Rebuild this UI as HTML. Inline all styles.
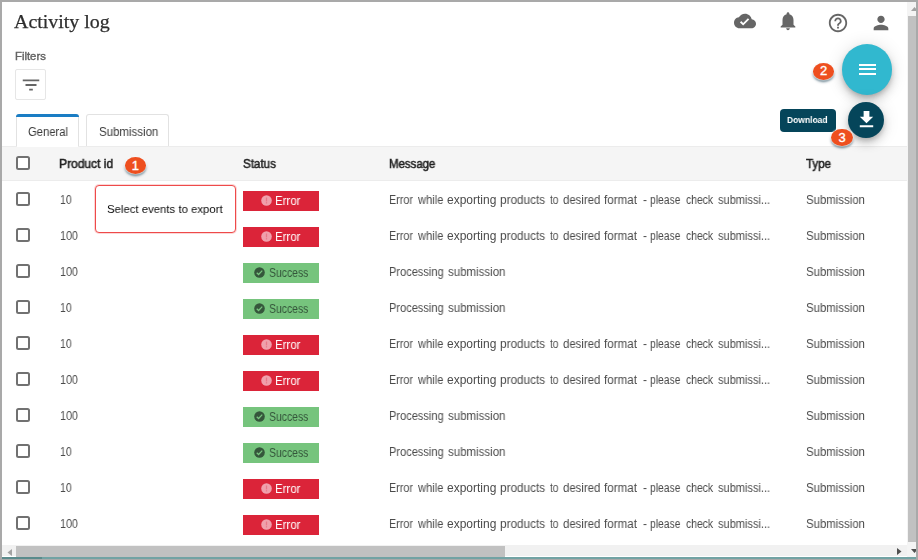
<!DOCTYPE html>
<html><head><meta charset="utf-8">
<style>
*{box-sizing:border-box;margin:0;padding:0}
html,body{width:918px;height:560px;overflow:hidden;background:#fff;font-family:"Liberation Sans",sans-serif}
#frame{position:absolute;left:0;top:0;width:918px;height:560px;background:#fff;overflow:hidden}
.a{position:absolute}
.t{position:absolute;white-space:nowrap;transform-origin:0 0;line-height:normal;will-change:transform}
.cb{position:absolute;left:16px;width:14px;height:14px;border:2px solid #717171;border-radius:2.5px;background:#fff}
.badge{position:absolute;left:243px;width:76px;height:20px}
.err{background:#db2439}
.suc{background:#76c47d}
.bi{position:absolute;top:4.1px;width:11px;height:11px}
.num{position:absolute;width:21.4px;height:16.8px;border-radius:50%;background:#ee4f1f;box-shadow:0 0 1.5px 0.5px rgba(255,255,255,.9),0 2px 2.5px 0 rgba(20,60,80,.7)}
.num b{position:absolute;left:0;width:100%;text-align:center;top:1.7px;font-size:13px;line-height:14px;color:#fff;font-weight:normal;-webkit-text-stroke:0.35px #fff}
</style></head><body>
<div id="frame">
<!-- top icons -->
<svg class="a" style="left:733.8px;top:10.1px" width="22" height="22" viewBox="0 0 24 24"><path fill="#666" d="M19.35 10.04C18.67 6.59 15.64 4 12 4 9.11 4 6.6 5.64 5.35 8.04 2.34 8.36 0 10.91 0 14c0 3.310 2.690 6 6 6h13c2.760 0 5-2.240 5-5 0-2.640-2.050-4.780-4.650-4.960zM10 17l-3.500-3.500 1.410-1.410L10 14.170 15.180 9l1.410 1.410L10 17z"/></svg>
<svg class="a" style="left:776.8px;top:10.2px" width="22" height="22" viewBox="0 0 24 24"><path fill="#666" d="M12 22c1.100 0 2-.900 2-2h-4c0 1.100.890 2 2 2zm6-6v-5c0-3.070-1.640-5.640-4.500-6.320V4c0-.830-.670-1.500-1.500-1.500s-1.500.670-1.500 1.500v.680C7.630 5.360 6 7.920 6 11v5l-2 2v1h16v-1l-2-2z"/></svg>
<svg class="a" style="left:827px;top:11.8px" width="22" height="22" viewBox="0 0 24 24"><path fill="#666" d="M11 18h2v-2h-2v2zm1-16C6.480 2 2 6.480 2 12s4.480 10 10 10 10-4.480 10-10S17.520 2 12 2zm0 18c-4.410 0-8-3.590-8-8s3.590-8 8-8 8 3.590 8 8-3.590 8-8 8zm0-14c-2.210 0-4 1.790-4 4h2c0-1.100.900-2 2-2s2 .900 2 2c0 2-3 1.750-3 5h2c0-2.250 3-2.500 3-5 0-2.210-1.790-4-4-4z"/></svg>
<svg class="a" style="left:870.3px;top:12.1px" width="22" height="22" viewBox="0 0 24 24"><path fill="#666" d="M12 12c2.210 0 4-1.790 4-4s-1.790-4-4-4-4 1.790-4 4 1.790 4 4 4zm0 2c-2.670 0-8 1.340-8 4v2h16v-2c0-2.660-5.330-4-8-4z"/></svg>
<!-- filter button -->
<div class="a" style="left:15px;top:69px;width:31px;height:31px;border:1px solid #e6e6e6;border-radius:2px;background:#fff"></div>
<svg class="a" style="left:19.5px;top:74.1px" width="22" height="22" viewBox="0 0 24 24"><path fill="#666" d="M10 18h4v-2h-4v2zM3 6v2h18V6H3zm3 7h12v-2H6v2z"/></svg>
<!-- tabs -->
<div class="a" style="left:16px;top:114px;width:63px;height:33px;border:1px solid #e2e2e2;border-bottom:none;border-radius:3px 3px 0 0;background:#fff"></div>
<div class="a" style="left:16px;top:114.3px;width:63px;height:3.2px;background:#1a7dc4;border-radius:3px 3px 0 0"></div>
<div class="a" style="left:86px;top:114px;width:83px;height:33px;border:1px solid #e2e2e2;border-bottom:none;border-radius:3px 3px 0 0;background:#fff"></div>
<!-- header -->
<div class="a" style="left:2px;top:146px;width:904.5px;height:34.6px;background:#f5f5f5;border-top:1px solid #ececec;border-bottom:1px solid #ececec"></div>
<div class="a" style="left:17px;top:146px;width:61px;height:1px;background:#fff"></div>
<div class="cb" style="top:156.2px"></div>
<div class="cb" style="top:191.6px"></div>
<div class="badge err" style="top:191px"><svg class="bi" style="left:18.3px" viewBox="0 0 24 24"><circle cx="12" cy="12" r="11.5" fill="#f0a0ac"/><rect x="10.6" y="5.5" width="2.8" height="8.5" fill="#e8798a"/><rect x="10.6" y="15.7" width="2.8" height="2.8" fill="#e8798a"/></svg></div>
<div class="cb" style="top:227.6px"></div>
<div class="badge err" style="top:227px"><svg class="bi" style="left:18.3px" viewBox="0 0 24 24"><circle cx="12" cy="12" r="11.5" fill="#f0a0ac"/><rect x="10.6" y="5.5" width="2.8" height="8.5" fill="#e8798a"/><rect x="10.6" y="15.7" width="2.8" height="2.8" fill="#e8798a"/></svg></div>
<div class="cb" style="top:263.6px"></div>
<div class="badge suc" style="top:263px"><svg class="bi" style="left:11.4px" viewBox="0 0 24 24"><circle cx="12" cy="12" r="11.5" fill="#35563b"/><path d="M6 12.5l4 4 8-8.5" stroke="#78c47f" stroke-width="2.8" fill="none"/></svg></div>
<div class="cb" style="top:299.6px"></div>
<div class="badge suc" style="top:299px"><svg class="bi" style="left:11.4px" viewBox="0 0 24 24"><circle cx="12" cy="12" r="11.5" fill="#35563b"/><path d="M6 12.5l4 4 8-8.5" stroke="#78c47f" stroke-width="2.8" fill="none"/></svg></div>
<div class="cb" style="top:335.6px"></div>
<div class="badge err" style="top:335px"><svg class="bi" style="left:18.3px" viewBox="0 0 24 24"><circle cx="12" cy="12" r="11.5" fill="#f0a0ac"/><rect x="10.6" y="5.5" width="2.8" height="8.5" fill="#e8798a"/><rect x="10.6" y="15.7" width="2.8" height="2.8" fill="#e8798a"/></svg></div>
<div class="cb" style="top:371.6px"></div>
<div class="badge err" style="top:371px"><svg class="bi" style="left:18.3px" viewBox="0 0 24 24"><circle cx="12" cy="12" r="11.5" fill="#f0a0ac"/><rect x="10.6" y="5.5" width="2.8" height="8.5" fill="#e8798a"/><rect x="10.6" y="15.7" width="2.8" height="2.8" fill="#e8798a"/></svg></div>
<div class="cb" style="top:407.6px"></div>
<div class="badge suc" style="top:407px"><svg class="bi" style="left:11.4px" viewBox="0 0 24 24"><circle cx="12" cy="12" r="11.5" fill="#35563b"/><path d="M6 12.5l4 4 8-8.5" stroke="#78c47f" stroke-width="2.8" fill="none"/></svg></div>
<div class="cb" style="top:443.6px"></div>
<div class="badge suc" style="top:443px"><svg class="bi" style="left:11.4px" viewBox="0 0 24 24"><circle cx="12" cy="12" r="11.5" fill="#35563b"/><path d="M6 12.5l4 4 8-8.5" stroke="#78c47f" stroke-width="2.8" fill="none"/></svg></div>
<div class="cb" style="top:479.6px"></div>
<div class="badge err" style="top:479px"><svg class="bi" style="left:18.3px" viewBox="0 0 24 24"><circle cx="12" cy="12" r="11.5" fill="#f0a0ac"/><rect x="10.6" y="5.5" width="2.8" height="8.5" fill="#e8798a"/><rect x="10.6" y="15.7" width="2.8" height="2.8" fill="#e8798a"/></svg></div>
<div class="cb" style="top:515.6px"></div>
<div class="badge err" style="top:515px"><svg class="bi" style="left:18.3px" viewBox="0 0 24 24"><circle cx="12" cy="12" r="11.5" fill="#f0a0ac"/><rect x="10.6" y="5.5" width="2.8" height="8.5" fill="#e8798a"/><rect x="10.6" y="15.7" width="2.8" height="2.8" fill="#e8798a"/></svg></div>
<!-- tooltip 1 -->
<div class="a" style="left:95px;top:185px;width:141px;height:48px;border:1px solid #ee4a4a;box-shadow:0 0 0 1px rgba(240,70,70,.22);border-radius:4px;background:#fff"></div>
<!-- FABs -->
<div class="a" style="left:841.8px;top:44.4px;width:50.5px;height:50.5px;border-radius:50%;background:#31b8cf;box-shadow:0 3px 5px -1px rgba(0,0,0,.2),0 6px 10px 0 rgba(0,0,0,.14),0 1px 18px 0 rgba(0,0,0,.12)"></div>
<div class="a" style="left:858.500px;top:63.600px;width:17px;height:2.200px;background:#fff"></div>
<div class="a" style="left:858.500px;top:68.300px;width:17px;height:2.200px;background:#fff"></div>
<div class="a" style="left:858.500px;top:73px;width:17px;height:2.200px;background:#fff"></div>
<div class="a" style="left:848.400px;top:102.2px;width:36px;height:36px;border-radius:50%;background:#05455a;box-shadow:0 3px 5px -1px rgba(0,0,0,.2),0 6px 10px 0 rgba(0,0,0,.14),0 1px 18px 0 rgba(0,0,0,.12)"></div>
<svg class="a" style="left:854.6px;top:108.1px" width="23" height="23" viewBox="0 0 24 24"><path fill="#fff" d="M19 9h-4V3H9v6H5l7 7 7-7zM5 18v2h14v-2H5z"/></svg>
<div class="a" style="left:779.6px;top:108.7px;width:56.3px;height:23px;border-radius:4px;background:#05455a"></div>
<!-- numbered badges -->
<div class="num" style="left:124.600px;top:157.400px"><b>1</b></div>
<div class="num" style="left:813px;top:62.8px"><b>2</b></div>
<div class="num" style="left:831.400px;top:129.300px"><b>3</b></div>
<span class="t" style="left:14.40px;top:10.84px;font-size:19.6px;font-weight:normal;color:#2e2e2e;font-family:'Liberation Serif',serif;transform:scaleX(1.0174);-webkit-text-stroke:0.25px #2e2e2e;">Activity log</span>
<span class="t" style="left:15.00px;top:49.77px;font-size:11.3px;font-weight:normal;color:#666;font-family:'Liberation Sans',sans-serif;transform:scaleX(1.0031);-webkit-text-stroke:0.4px #606060;">Filters</span>
<span class="t" style="left:28.00px;top:125.14px;font-size:12px;font-weight:normal;color:#3a3a3a;font-family:'Liberation Sans',sans-serif;transform:scaleX(0.9375);">General</span>
<span class="t" style="left:98.50px;top:124.94px;font-size:12px;font-weight:normal;color:#3a3a3a;font-family:'Liberation Sans',sans-serif;transform:scaleX(0.9568);">Submission</span>
<span class="t" style="left:59.22px;top:156.87px;font-size:12.3px;font-weight:normal;color:#222;font-family:'Liberation Sans',sans-serif;transform:scaleX(0.9775);-webkit-text-stroke:0.5px #222;">Product id</span>
<span class="t" style="left:243.00px;top:156.87px;font-size:12.3px;font-weight:normal;color:#222;font-family:'Liberation Sans',sans-serif;transform:scaleX(0.9449);-webkit-text-stroke:0.5px #222;">Status</span>
<span class="t" style="left:388.57px;top:156.87px;font-size:12.3px;font-weight:normal;color:#222;font-family:'Liberation Sans',sans-serif;transform:scaleX(0.9275);-webkit-text-stroke:0.5px #222;">Message</span>
<span class="t" style="left:806.00px;top:156.87px;font-size:12.3px;font-weight:normal;color:#222;font-family:'Liberation Sans',sans-serif;transform:scaleX(0.9396);-webkit-text-stroke:0.5px #222;">Type</span>
<span class="t" style="left:107.00px;top:201.71px;font-size:11.7px;font-weight:normal;color:#0c0c0c;font-family:'Liberation Sans',sans-serif;transform:scaleX(0.9721);">Select events to export</span>
<span class="t" style="left:787.40px;top:114.43px;font-size:9.8px;font-weight:bold;color:#fff;font-family:'Liberation Sans',sans-serif;transform:scaleX(0.8672);">Download</span>
<span class="t" style="left:59.60px;top:192.64px;font-size:12px;font-weight:normal;color:#4b4b4b;font-family:'Liberation Sans',sans-serif;transform:scaleX(0.8703);">10</span>
<span class="t" style="left:275.47px;top:193.87px;font-size:12.3px;font-weight:normal;color:#fff;font-family:'Liberation Sans',sans-serif;transform:scaleX(0.9302);">Error</span>
<span class="t" style="left:389.40px;top:192.64px;font-size:12px;font-weight:normal;color:#4b4b4b;font-family:'Liberation Sans',sans-serif;transform:scaleX(0.8961);">Error</span>
<span class="t" style="left:417.73px;top:192.64px;font-size:12px;font-weight:normal;color:#4b4b4b;font-family:'Liberation Sans',sans-serif;transform:scaleX(0.9277);">while</span>
<span class="t" style="left:447.10px;top:192.64px;font-size:12px;font-weight:normal;color:#4b4b4b;font-family:'Liberation Sans',sans-serif;transform:scaleX(0.9981);">exporting</span>
<span class="t" style="left:500.00px;top:192.64px;font-size:12px;font-weight:normal;color:#4b4b4b;font-family:'Liberation Sans',sans-serif;transform:scaleX(0.9799);">products</span>
<span class="t" style="left:549.50px;top:192.64px;font-size:12px;font-weight:normal;color:#4b4b4b;font-family:'Liberation Sans',sans-serif;transform:scaleX(0.8419);">to</span>
<span class="t" style="left:563.40px;top:192.64px;font-size:12px;font-weight:normal;color:#4b4b4b;font-family:'Liberation Sans',sans-serif;transform:scaleX(0.9487);">desired</span>
<span class="t" style="left:604.10px;top:192.64px;font-size:12px;font-weight:normal;color:#4b4b4b;font-family:'Liberation Sans',sans-serif;transform:scaleX(0.9690);">format</span>
<span class="t" style="left:642.50px;top:192.64px;font-size:12px;font-weight:normal;color:#4b4b4b;font-family:'Liberation Sans',sans-serif;transform:scaleX(1.0000);">-</span>
<span class="t" style="left:650.10px;top:192.64px;font-size:12px;font-weight:normal;color:#4b4b4b;font-family:'Liberation Sans',sans-serif;transform:scaleX(0.8602);">please</span>
<span class="t" style="left:685.60px;top:192.64px;font-size:12px;font-weight:normal;color:#4b4b4b;font-family:'Liberation Sans',sans-serif;transform:scaleX(0.8656);">check</span>
<span class="t" style="left:718.40px;top:192.64px;font-size:12px;font-weight:normal;color:#4b4b4b;font-family:'Liberation Sans',sans-serif;transform:scaleX(0.9194);">submissi...</span>
<span class="t" style="left:806.40px;top:192.64px;font-size:12px;font-weight:normal;color:#4b4b4b;font-family:'Liberation Sans',sans-serif;transform:scaleX(0.9502);">Submission</span>
<span class="t" style="left:59.60px;top:228.64px;font-size:12px;font-weight:normal;color:#4b4b4b;font-family:'Liberation Sans',sans-serif;transform:scaleX(0.8994);">100</span>
<span class="t" style="left:275.47px;top:229.87px;font-size:12.3px;font-weight:normal;color:#fff;font-family:'Liberation Sans',sans-serif;transform:scaleX(0.9302);">Error</span>
<span class="t" style="left:389.40px;top:228.64px;font-size:12px;font-weight:normal;color:#4b4b4b;font-family:'Liberation Sans',sans-serif;transform:scaleX(0.8961);">Error</span>
<span class="t" style="left:417.73px;top:228.64px;font-size:12px;font-weight:normal;color:#4b4b4b;font-family:'Liberation Sans',sans-serif;transform:scaleX(0.9277);">while</span>
<span class="t" style="left:447.10px;top:228.64px;font-size:12px;font-weight:normal;color:#4b4b4b;font-family:'Liberation Sans',sans-serif;transform:scaleX(0.9981);">exporting</span>
<span class="t" style="left:500.00px;top:228.64px;font-size:12px;font-weight:normal;color:#4b4b4b;font-family:'Liberation Sans',sans-serif;transform:scaleX(0.9799);">products</span>
<span class="t" style="left:549.50px;top:228.64px;font-size:12px;font-weight:normal;color:#4b4b4b;font-family:'Liberation Sans',sans-serif;transform:scaleX(0.8419);">to</span>
<span class="t" style="left:563.40px;top:228.64px;font-size:12px;font-weight:normal;color:#4b4b4b;font-family:'Liberation Sans',sans-serif;transform:scaleX(0.9487);">desired</span>
<span class="t" style="left:604.10px;top:228.64px;font-size:12px;font-weight:normal;color:#4b4b4b;font-family:'Liberation Sans',sans-serif;transform:scaleX(0.9690);">format</span>
<span class="t" style="left:642.50px;top:228.64px;font-size:12px;font-weight:normal;color:#4b4b4b;font-family:'Liberation Sans',sans-serif;transform:scaleX(1.0000);">-</span>
<span class="t" style="left:650.10px;top:228.64px;font-size:12px;font-weight:normal;color:#4b4b4b;font-family:'Liberation Sans',sans-serif;transform:scaleX(0.8602);">please</span>
<span class="t" style="left:685.60px;top:228.64px;font-size:12px;font-weight:normal;color:#4b4b4b;font-family:'Liberation Sans',sans-serif;transform:scaleX(0.8656);">check</span>
<span class="t" style="left:718.40px;top:228.64px;font-size:12px;font-weight:normal;color:#4b4b4b;font-family:'Liberation Sans',sans-serif;transform:scaleX(0.9194);">submissi...</span>
<span class="t" style="left:806.40px;top:228.64px;font-size:12px;font-weight:normal;color:#4b4b4b;font-family:'Liberation Sans',sans-serif;transform:scaleX(0.9502);">Submission</span>
<span class="t" style="left:59.60px;top:264.64px;font-size:12px;font-weight:normal;color:#4b4b4b;font-family:'Liberation Sans',sans-serif;transform:scaleX(0.8994);">100</span>
<span class="t" style="left:269.20px;top:265.87px;font-size:12.3px;font-weight:normal;color:#35563b;font-family:'Liberation Sans',sans-serif;transform:scaleX(0.8462);">Success</span>
<span class="t" style="left:389.30px;top:264.64px;font-size:12px;font-weight:normal;color:#4b4b4b;font-family:'Liberation Sans',sans-serif;transform:scaleX(0.9201);">Processing</span>
<span class="t" style="left:447.50px;top:264.64px;font-size:12px;font-weight:normal;color:#4b4b4b;font-family:'Liberation Sans',sans-serif;transform:scaleX(0.9570);">submission</span>
<span class="t" style="left:806.40px;top:264.64px;font-size:12px;font-weight:normal;color:#4b4b4b;font-family:'Liberation Sans',sans-serif;transform:scaleX(0.9502);">Submission</span>
<span class="t" style="left:59.60px;top:300.64px;font-size:12px;font-weight:normal;color:#4b4b4b;font-family:'Liberation Sans',sans-serif;transform:scaleX(0.8703);">10</span>
<span class="t" style="left:269.20px;top:301.87px;font-size:12.3px;font-weight:normal;color:#35563b;font-family:'Liberation Sans',sans-serif;transform:scaleX(0.8462);">Success</span>
<span class="t" style="left:389.30px;top:300.64px;font-size:12px;font-weight:normal;color:#4b4b4b;font-family:'Liberation Sans',sans-serif;transform:scaleX(0.9201);">Processing</span>
<span class="t" style="left:447.50px;top:300.64px;font-size:12px;font-weight:normal;color:#4b4b4b;font-family:'Liberation Sans',sans-serif;transform:scaleX(0.9570);">submission</span>
<span class="t" style="left:806.40px;top:300.64px;font-size:12px;font-weight:normal;color:#4b4b4b;font-family:'Liberation Sans',sans-serif;transform:scaleX(0.9502);">Submission</span>
<span class="t" style="left:59.60px;top:336.64px;font-size:12px;font-weight:normal;color:#4b4b4b;font-family:'Liberation Sans',sans-serif;transform:scaleX(0.8703);">10</span>
<span class="t" style="left:275.47px;top:337.87px;font-size:12.3px;font-weight:normal;color:#fff;font-family:'Liberation Sans',sans-serif;transform:scaleX(0.9302);">Error</span>
<span class="t" style="left:389.40px;top:336.64px;font-size:12px;font-weight:normal;color:#4b4b4b;font-family:'Liberation Sans',sans-serif;transform:scaleX(0.8961);">Error</span>
<span class="t" style="left:417.73px;top:336.64px;font-size:12px;font-weight:normal;color:#4b4b4b;font-family:'Liberation Sans',sans-serif;transform:scaleX(0.9277);">while</span>
<span class="t" style="left:447.10px;top:336.64px;font-size:12px;font-weight:normal;color:#4b4b4b;font-family:'Liberation Sans',sans-serif;transform:scaleX(0.9981);">exporting</span>
<span class="t" style="left:500.00px;top:336.64px;font-size:12px;font-weight:normal;color:#4b4b4b;font-family:'Liberation Sans',sans-serif;transform:scaleX(0.9799);">products</span>
<span class="t" style="left:549.50px;top:336.64px;font-size:12px;font-weight:normal;color:#4b4b4b;font-family:'Liberation Sans',sans-serif;transform:scaleX(0.8419);">to</span>
<span class="t" style="left:563.40px;top:336.64px;font-size:12px;font-weight:normal;color:#4b4b4b;font-family:'Liberation Sans',sans-serif;transform:scaleX(0.9487);">desired</span>
<span class="t" style="left:604.10px;top:336.64px;font-size:12px;font-weight:normal;color:#4b4b4b;font-family:'Liberation Sans',sans-serif;transform:scaleX(0.9690);">format</span>
<span class="t" style="left:642.50px;top:336.64px;font-size:12px;font-weight:normal;color:#4b4b4b;font-family:'Liberation Sans',sans-serif;transform:scaleX(1.0000);">-</span>
<span class="t" style="left:650.10px;top:336.64px;font-size:12px;font-weight:normal;color:#4b4b4b;font-family:'Liberation Sans',sans-serif;transform:scaleX(0.8602);">please</span>
<span class="t" style="left:685.60px;top:336.64px;font-size:12px;font-weight:normal;color:#4b4b4b;font-family:'Liberation Sans',sans-serif;transform:scaleX(0.8656);">check</span>
<span class="t" style="left:718.40px;top:336.64px;font-size:12px;font-weight:normal;color:#4b4b4b;font-family:'Liberation Sans',sans-serif;transform:scaleX(0.9194);">submissi...</span>
<span class="t" style="left:806.40px;top:336.64px;font-size:12px;font-weight:normal;color:#4b4b4b;font-family:'Liberation Sans',sans-serif;transform:scaleX(0.9502);">Submission</span>
<span class="t" style="left:59.60px;top:372.64px;font-size:12px;font-weight:normal;color:#4b4b4b;font-family:'Liberation Sans',sans-serif;transform:scaleX(0.8994);">100</span>
<span class="t" style="left:275.47px;top:373.87px;font-size:12.3px;font-weight:normal;color:#fff;font-family:'Liberation Sans',sans-serif;transform:scaleX(0.9302);">Error</span>
<span class="t" style="left:389.40px;top:372.64px;font-size:12px;font-weight:normal;color:#4b4b4b;font-family:'Liberation Sans',sans-serif;transform:scaleX(0.8961);">Error</span>
<span class="t" style="left:417.73px;top:372.64px;font-size:12px;font-weight:normal;color:#4b4b4b;font-family:'Liberation Sans',sans-serif;transform:scaleX(0.9277);">while</span>
<span class="t" style="left:447.10px;top:372.64px;font-size:12px;font-weight:normal;color:#4b4b4b;font-family:'Liberation Sans',sans-serif;transform:scaleX(0.9981);">exporting</span>
<span class="t" style="left:500.00px;top:372.64px;font-size:12px;font-weight:normal;color:#4b4b4b;font-family:'Liberation Sans',sans-serif;transform:scaleX(0.9799);">products</span>
<span class="t" style="left:549.50px;top:372.64px;font-size:12px;font-weight:normal;color:#4b4b4b;font-family:'Liberation Sans',sans-serif;transform:scaleX(0.8419);">to</span>
<span class="t" style="left:563.40px;top:372.64px;font-size:12px;font-weight:normal;color:#4b4b4b;font-family:'Liberation Sans',sans-serif;transform:scaleX(0.9487);">desired</span>
<span class="t" style="left:604.10px;top:372.64px;font-size:12px;font-weight:normal;color:#4b4b4b;font-family:'Liberation Sans',sans-serif;transform:scaleX(0.9690);">format</span>
<span class="t" style="left:642.50px;top:372.64px;font-size:12px;font-weight:normal;color:#4b4b4b;font-family:'Liberation Sans',sans-serif;transform:scaleX(1.0000);">-</span>
<span class="t" style="left:650.10px;top:372.64px;font-size:12px;font-weight:normal;color:#4b4b4b;font-family:'Liberation Sans',sans-serif;transform:scaleX(0.8602);">please</span>
<span class="t" style="left:685.60px;top:372.64px;font-size:12px;font-weight:normal;color:#4b4b4b;font-family:'Liberation Sans',sans-serif;transform:scaleX(0.8656);">check</span>
<span class="t" style="left:718.40px;top:372.64px;font-size:12px;font-weight:normal;color:#4b4b4b;font-family:'Liberation Sans',sans-serif;transform:scaleX(0.9194);">submissi...</span>
<span class="t" style="left:806.40px;top:372.64px;font-size:12px;font-weight:normal;color:#4b4b4b;font-family:'Liberation Sans',sans-serif;transform:scaleX(0.9502);">Submission</span>
<span class="t" style="left:59.60px;top:408.64px;font-size:12px;font-weight:normal;color:#4b4b4b;font-family:'Liberation Sans',sans-serif;transform:scaleX(0.8994);">100</span>
<span class="t" style="left:269.20px;top:409.87px;font-size:12.3px;font-weight:normal;color:#35563b;font-family:'Liberation Sans',sans-serif;transform:scaleX(0.8462);">Success</span>
<span class="t" style="left:389.30px;top:408.64px;font-size:12px;font-weight:normal;color:#4b4b4b;font-family:'Liberation Sans',sans-serif;transform:scaleX(0.9201);">Processing</span>
<span class="t" style="left:447.50px;top:408.64px;font-size:12px;font-weight:normal;color:#4b4b4b;font-family:'Liberation Sans',sans-serif;transform:scaleX(0.9570);">submission</span>
<span class="t" style="left:806.40px;top:408.64px;font-size:12px;font-weight:normal;color:#4b4b4b;font-family:'Liberation Sans',sans-serif;transform:scaleX(0.9502);">Submission</span>
<span class="t" style="left:59.60px;top:444.64px;font-size:12px;font-weight:normal;color:#4b4b4b;font-family:'Liberation Sans',sans-serif;transform:scaleX(0.8703);">10</span>
<span class="t" style="left:269.20px;top:445.87px;font-size:12.3px;font-weight:normal;color:#35563b;font-family:'Liberation Sans',sans-serif;transform:scaleX(0.8462);">Success</span>
<span class="t" style="left:389.30px;top:444.64px;font-size:12px;font-weight:normal;color:#4b4b4b;font-family:'Liberation Sans',sans-serif;transform:scaleX(0.9201);">Processing</span>
<span class="t" style="left:447.50px;top:444.64px;font-size:12px;font-weight:normal;color:#4b4b4b;font-family:'Liberation Sans',sans-serif;transform:scaleX(0.9570);">submission</span>
<span class="t" style="left:806.40px;top:444.64px;font-size:12px;font-weight:normal;color:#4b4b4b;font-family:'Liberation Sans',sans-serif;transform:scaleX(0.9502);">Submission</span>
<span class="t" style="left:59.60px;top:480.64px;font-size:12px;font-weight:normal;color:#4b4b4b;font-family:'Liberation Sans',sans-serif;transform:scaleX(0.8703);">10</span>
<span class="t" style="left:275.47px;top:481.87px;font-size:12.3px;font-weight:normal;color:#fff;font-family:'Liberation Sans',sans-serif;transform:scaleX(0.9302);">Error</span>
<span class="t" style="left:389.40px;top:480.64px;font-size:12px;font-weight:normal;color:#4b4b4b;font-family:'Liberation Sans',sans-serif;transform:scaleX(0.8961);">Error</span>
<span class="t" style="left:417.73px;top:480.64px;font-size:12px;font-weight:normal;color:#4b4b4b;font-family:'Liberation Sans',sans-serif;transform:scaleX(0.9277);">while</span>
<span class="t" style="left:447.10px;top:480.64px;font-size:12px;font-weight:normal;color:#4b4b4b;font-family:'Liberation Sans',sans-serif;transform:scaleX(0.9981);">exporting</span>
<span class="t" style="left:500.00px;top:480.64px;font-size:12px;font-weight:normal;color:#4b4b4b;font-family:'Liberation Sans',sans-serif;transform:scaleX(0.9799);">products</span>
<span class="t" style="left:549.50px;top:480.64px;font-size:12px;font-weight:normal;color:#4b4b4b;font-family:'Liberation Sans',sans-serif;transform:scaleX(0.8419);">to</span>
<span class="t" style="left:563.40px;top:480.64px;font-size:12px;font-weight:normal;color:#4b4b4b;font-family:'Liberation Sans',sans-serif;transform:scaleX(0.9487);">desired</span>
<span class="t" style="left:604.10px;top:480.64px;font-size:12px;font-weight:normal;color:#4b4b4b;font-family:'Liberation Sans',sans-serif;transform:scaleX(0.9690);">format</span>
<span class="t" style="left:642.50px;top:480.64px;font-size:12px;font-weight:normal;color:#4b4b4b;font-family:'Liberation Sans',sans-serif;transform:scaleX(1.0000);">-</span>
<span class="t" style="left:650.10px;top:480.64px;font-size:12px;font-weight:normal;color:#4b4b4b;font-family:'Liberation Sans',sans-serif;transform:scaleX(0.8602);">please</span>
<span class="t" style="left:685.60px;top:480.64px;font-size:12px;font-weight:normal;color:#4b4b4b;font-family:'Liberation Sans',sans-serif;transform:scaleX(0.8656);">check</span>
<span class="t" style="left:718.40px;top:480.64px;font-size:12px;font-weight:normal;color:#4b4b4b;font-family:'Liberation Sans',sans-serif;transform:scaleX(0.9194);">submissi...</span>
<span class="t" style="left:806.40px;top:480.64px;font-size:12px;font-weight:normal;color:#4b4b4b;font-family:'Liberation Sans',sans-serif;transform:scaleX(0.9502);">Submission</span>
<span class="t" style="left:59.60px;top:516.64px;font-size:12px;font-weight:normal;color:#4b4b4b;font-family:'Liberation Sans',sans-serif;transform:scaleX(0.8994);">100</span>
<span class="t" style="left:275.47px;top:517.87px;font-size:12.3px;font-weight:normal;color:#fff;font-family:'Liberation Sans',sans-serif;transform:scaleX(0.9302);">Error</span>
<span class="t" style="left:389.40px;top:516.64px;font-size:12px;font-weight:normal;color:#4b4b4b;font-family:'Liberation Sans',sans-serif;transform:scaleX(0.8961);">Error</span>
<span class="t" style="left:417.73px;top:516.64px;font-size:12px;font-weight:normal;color:#4b4b4b;font-family:'Liberation Sans',sans-serif;transform:scaleX(0.9277);">while</span>
<span class="t" style="left:447.10px;top:516.64px;font-size:12px;font-weight:normal;color:#4b4b4b;font-family:'Liberation Sans',sans-serif;transform:scaleX(0.9981);">exporting</span>
<span class="t" style="left:500.00px;top:516.64px;font-size:12px;font-weight:normal;color:#4b4b4b;font-family:'Liberation Sans',sans-serif;transform:scaleX(0.9799);">products</span>
<span class="t" style="left:549.50px;top:516.64px;font-size:12px;font-weight:normal;color:#4b4b4b;font-family:'Liberation Sans',sans-serif;transform:scaleX(0.8419);">to</span>
<span class="t" style="left:563.40px;top:516.64px;font-size:12px;font-weight:normal;color:#4b4b4b;font-family:'Liberation Sans',sans-serif;transform:scaleX(0.9487);">desired</span>
<span class="t" style="left:604.10px;top:516.64px;font-size:12px;font-weight:normal;color:#4b4b4b;font-family:'Liberation Sans',sans-serif;transform:scaleX(0.9690);">format</span>
<span class="t" style="left:642.50px;top:516.64px;font-size:12px;font-weight:normal;color:#4b4b4b;font-family:'Liberation Sans',sans-serif;transform:scaleX(1.0000);">-</span>
<span class="t" style="left:650.10px;top:516.64px;font-size:12px;font-weight:normal;color:#4b4b4b;font-family:'Liberation Sans',sans-serif;transform:scaleX(0.8602);">please</span>
<span class="t" style="left:685.60px;top:516.64px;font-size:12px;font-weight:normal;color:#4b4b4b;font-family:'Liberation Sans',sans-serif;transform:scaleX(0.8656);">check</span>
<span class="t" style="left:718.40px;top:516.64px;font-size:12px;font-weight:normal;color:#4b4b4b;font-family:'Liberation Sans',sans-serif;transform:scaleX(0.9194);">submissi...</span>
<span class="t" style="left:806.40px;top:516.64px;font-size:12px;font-weight:normal;color:#4b4b4b;font-family:'Liberation Sans',sans-serif;transform:scaleX(0.9502);">Submission</span>
<!-- scrollbars -->
<div class="a" style="left:907px;top:2px;width:9px;height:556px;background:#f4f4f4"></div>
<div class="a" style="left:908px;top:16px;width:8px;height:526px;background:#c1c1c1"></div>
<svg class="a" style="left:910.5px;top:6.800px" width="7" height="4" viewBox="0 0 7 4"><path fill="#a3a3a3" d="M0 4L3.500 0 7 4z"/></svg>
<svg class="a" style="left:910.5px;top:549px" width="7" height="4" viewBox="0 0 7 4"><path fill="#505050" d="M0 0L3.500 4 7 0z"/></svg>
<div class="a" style="left:2px;top:545px;width:905px;height:11.300px;background:#f1f1f1"></div>
<div class="a" style="left:16px;top:545.500px;width:489px;height:11.500px;background:#c1c1c1"></div>
<svg class="a" style="left:6.500px;top:548.500px" width="5" height="7" viewBox="0 0 5 7"><path fill="#a3a3a3" d="M5 0L0.500 3.500 5 7z"/></svg>
<svg class="a" style="left:897px;top:548px" width="5" height="7" viewBox="0 0 5 7"><path fill="#505050" d="M0 0L4.500 3.500 0 7z"/></svg>
<!-- outer borders -->
<div class="a" style="left:2px;top:557px;width:914px;height:2px;background:#72a3a4"></div>
<div class="a" style="left:2px;top:557px;width:40px;height:2px;background:#5a8b8c"></div>
<div class="a" style="left:0;top:0;width:918px;height:2px;background:#a9a9a9"></div>
<div class="a" style="left:0;top:0;width:2px;height:560px;background:#a9a9a9"></div>
<div class="a" style="left:916px;top:0;width:2px;height:560px;background:#a9a9a9"></div>
<div class="a" style="left:0;top:559px;width:918px;height:1px;background:#a9a9a9"></div>
</div>
</body></html>
